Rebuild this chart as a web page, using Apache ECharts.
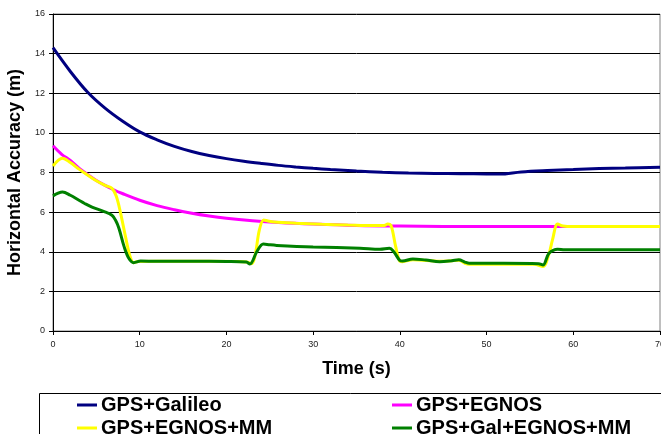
<!DOCTYPE html>
<html>
<head>
<meta charset="utf-8">
<script src="https://cdn.jsdelivr.net/npm/echarts@6/dist/echarts.min.js"></script>
<style>html,body{margin:0;padding:0;background:#fff;}#c{width:661px;height:434px;}</style>
</head>
<body>
<div id="c"></div>
<script>
const seriesNames = ['GPS+Galileo', 'GPS+EGNOS', 'GPS+EGNOS+MM', 'GPS+Gal+EGNOS+MM'];
const yTicks = [0, 2, 4, 6, 8, 10, 12, 14, 16];
const xTicks = [0, 10, 20, 30, 40, 50, 60, 70];

const galileoT = [0, 2, 4, 6, 8, 10, 12, 14, 16, 18, 20, 22, 24, 26, 28, 30, 32, 35, 38, 41, 44, 47, 50, 51.5, 54, 57, 60, 63, 66, 70];
const galileoV = [14.3, 13.1, 12.05, 11.25, 10.6, 10.05, 9.65, 9.32, 9.06, 8.86, 8.7, 8.57, 8.46, 8.36, 8.28, 8.21, 8.15, 8.07, 8.01, 7.97, 7.95, 7.94, 7.93, 7.92, 8.03, 8.1, 8.15, 8.2, 8.23, 8.27];

const egnosT = [0, 1, 2, 3, 4, 5, 6, 7, 8, 10, 12, 14, 16, 18, 20, 23, 26, 30, 35, 40, 50, 60, 70];
const egnosV = [9.35, 8.92, 8.61, 8.22, 7.9, 7.6, 7.35, 7.13, 6.94, 6.6, 6.33, 6.12, 5.94, 5.8, 5.69, 5.57, 5.48, 5.4, 5.33, 5.3, 5.27, 5.27, 5.28];

const egnosMmT = [0, 1.1, 2, 3, 4, 5, 6, 6.8, 7.3, 7.8, 8.36, 8.9, 9.3, 9.8, 12, 15, 18, 21, 22.3, 22.9, 23.3, 23.8, 24.3, 24.8, 25.5, 28, 31, 34, 37, 38.2, 38.6, 39.0, 39.5, 40, 40.3, 41.5, 44.6, 46, 46.8, 47.5, 48, 52, 55.5, 56.5, 57.2, 57.6, 58.2, 58.8, 60, 65, 70];
const egnosMmV = [8.33, 8.72, 8.5, 8.17, 7.87, 7.58, 7.35, 7.2, 6.8, 5.94, 4.76, 3.75, 3.45, 3.51, 3.52, 3.52, 3.52, 3.51, 3.48, 3.4, 3.8, 5.1, 5.6, 5.55, 5.5, 5.44, 5.39, 5.35, 5.32, 5.33, 5.4, 5.3, 4.3, 3.52, 3.5, 3.6, 3.52, 3.55, 3.57, 3.42, 3.37, 3.37, 3.37, 3.26, 3.9, 4.6, 5.4, 5.3, 5.27, 5.27, 5.28];

const galEgnosMmT = [0, 1.1, 2, 3, 3.6, 4.5, 5.9, 6.8, 7.2, 7.6, 8.2, 8.74, 9.3, 10.1, 12, 16, 20, 22.3, 22.7, 23.5, 24.25, 25, 25.8, 30, 35.4, 37.7, 38.8, 39.3, 40, 40.3, 41.5, 43, 44.6, 46, 46.8, 47.5, 48, 52, 56, 56.5, 57.2, 58.2, 59, 60.7, 65, 70];
const galEgnosMmV = [6.82, 7.02, 6.85, 6.6, 6.45, 6.25, 6.03, 5.84, 5.6, 5.19, 4.26, 3.67, 3.45, 3.53, 3.52, 3.52, 3.51, 3.48, 3.38, 4.0, 4.39, 4.35, 4.32, 4.24, 4.18, 4.13, 4.18, 4.0, 3.56, 3.53, 3.64, 3.58, 3.5, 3.55, 3.6, 3.48, 3.42, 3.42, 3.4, 3.33, 3.92, 4.13, 4.1, 4.1, 4.1, 4.1];

const colors = ['#000080', '#FF00FF', '#FFFF00', '#008000'];

function pairs(t, v) { return t.map((x, i) => [x, v[i]]); }
const allData = [pairs(galileoT, galileoV), pairs(egnosT, egnosV), pairs(egnosMmT, egnosMmV), pairs(galEgnosMmT, galEgnosMmV)];

const FONT = 'Liberation Sans, Arial, sans-serif';
const legendPos = [[77, 395], [392, 395], [77, 418], [392, 418]];
const chart = echarts.init(document.getElementById('c'), null, { renderer: 'canvas' });
chart.setOption({
  animation: false,
  backgroundColor: '#fff',
  grid: { left: 53, right: 1, top: 14, bottom: 103, outerBoundsMode: 'none', containLabel: false,
          show: true, borderColor: '#808080', borderWidth: 1 },
  xAxis: {
    type: 'value', min: xTicks[0], max: xTicks[xTicks.length - 1], interval: 10,
    name: 'Time (s)', nameLocation: 'middle', nameGap: 29,
    nameTextStyle: { fontFamily: FONT, fontWeight: 'bold', fontSize: 18, color: '#000' },
    axisLine: { lineStyle: { color: '#000', width: 1 } },
    axisTick: { show: true, inside: false, length: 4, lineStyle: { color: '#000' } },
    axisLabel: { fontFamily: FONT, fontSize: 9, color: '#222', margin: 9, hideOverlap: false },
    splitLine: { show: false }
  },
  yAxis: {
    type: 'value', min: yTicks[0], max: yTicks[yTicks.length - 1], interval: 2,
    name: 'Horizontal Accuracy (m)', nameLocation: 'middle', nameGap: 24,
    nameTextStyle: { fontFamily: FONT, fontWeight: 'bold', fontSize: 18, color: '#000' },
    axisLine: { show: true, lineStyle: { color: '#000', width: 1 } },
    axisTick: { show: true, inside: false, length: 4, lineStyle: { color: '#000' } },
    axisLabel: { fontFamily: FONT, fontSize: 9, color: '#222', margin: 8 },
    splitLine: { show: true, lineStyle: { color: '#000', width: 1 } }
  },
  legend: seriesNames.map((n, i) => ({
    data: [n], left: legendPos[i][0], top: legendPos[i][1], padding: 0,
    icon: 'rect', itemWidth: 20, itemHeight: 3,
    textStyle: { fontFamily: FONT, fontWeight: 'bold', fontSize: 20, color: '#000', padding: [0, 0, 0, -1] }
  })),
  graphic: [{
    type: 'rect', left: 37, top: 391, z: -1,
    shape: { x: 0, y: 0, width: 700, height: 100 },
    style: { fill: 'none', stroke: '#000', lineWidth: 1 }
  }],
  series: seriesNames.map((n, i) => ({
    name: n, type: 'line', data: allData[i], smooth: 0.35, showSymbol: false, symbol: 'none',
    color: colors[i], lineStyle: { color: colors[i], width: 3 }, z: 2 + i
  }))
});
</script>
</body>
</html>
